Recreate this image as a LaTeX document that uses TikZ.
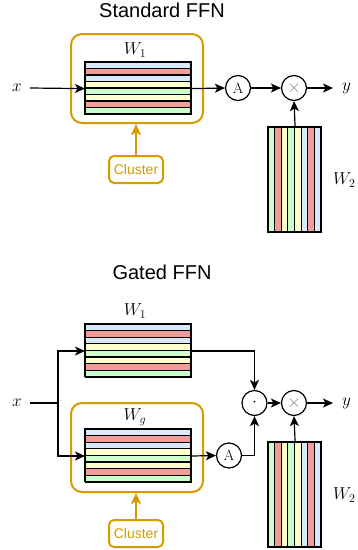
\documentclass[tikz,border=0pt]{standalone}
\usepackage{fontspec}
\newfontfamily\sansf{Liberation Sans}
\usetikzlibrary{arrows.meta}
\definecolor{cb}{HTML}{DAE8FC}
\definecolor{cr}{HTML}{F19C99}
\definecolor{cy}{HTML}{FFFFCC}
\definecolor{cg}{HTML}{CCFFCC}
\definecolor{orng}{HTML}{D79B00}
\tikzset{
  arr/.style={-{Stealth[length=10pt,width=9pt,inset=2.5pt]}, line width=1.2pt},
  oarr/.style={-{Stealth[length=11pt,width=10pt,inset=2.5pt]}, line width=2pt, draw=orng},
  obox/.style={draw=orng, line width=2pt, rounded corners=11pt, inner sep=0pt},
  cbox/.style={draw=orng, line width=2pt, rounded corners=5pt, fill=white, text=orng,
    font=\sansf\fontsize{14}{16}\selectfont, minimum width=54pt, minimum height=27pt, inner sep=0pt},
  circ/.style={circle, draw, line width=1.2pt, minimum size=25pt, inner sep=0pt},
  ttl/.style={font=\sansf\fontsize{20}{24}\selectfont},
  lbl/.style={font=\fontsize{18}{21}\selectfont, inner sep=1pt},
  mat/.style={draw, line width=1.2pt, inner sep=0pt},
}
\begin{document}
\begin{tikzpicture}[x=1pt,y=-1pt]
\useasboundingbox (0,0) rectangle (358,550);
% ---------------- Standard FFN ----------------
\node[ttl] (t1) at (162,10) {Standard FFN};
\node[obox, minimum width=132pt, minimum height=89pt, anchor=north west] (b1) at (70,33) {};
\node[lbl] (w1a) at (135,50) {$W_1$};
\foreach \c [count=\i from 0] in {cb,cr,cb,cy,cg,cy,cr,cg}
  \filldraw[fill=\c, line width=1.2pt] (85,62+\i*6.5) rectangle (191,62+\i*6.5+6.5);
\node[mat, minimum width=106pt, minimum height=52pt, anchor=north west] (m1) at (85,62) {};
\node[lbl, outer sep=7pt] (x1) at (17,88) {$x$};
\draw[arr] (x1.east) -- (m1.west);
\node[circ, font=\fontsize{15}{18}\selectfont] (a1) at (238,88) {$\mathrm{A}$};
\draw[arr] (m1.east) -- (a1.west);
\node[circ, font=\fontsize{17}{20}\selectfont] (p1) at (294,88) {\textcolor{gray}{$\times$}};
\draw[arr] (a1.east) -- (p1.west);
\node[lbl, anchor=west] (y1) at (341,88) {$y$};
\draw[arr, shorten >=8pt] (p1.east) -- (y1.west);
\foreach \c [count=\i from 0] in {cg,cr,cy,cg,cy,cb,cr,cb}
  \filldraw[fill=\c, line width=1.2pt] (268+\i*6.625,127) rectangle (268+\i*6.625+6.625,232);
\node[mat, minimum width=53pt, minimum height=105pt, anchor=north west] (v1) at (268,127) {};
\draw[arr] (v1.north) -- (p1.south);
\node[lbl, anchor=west] (w2a) at (332,180) {$W_2$};
\node[cbox] (c1) at (136,169.5) {Cluster};
\draw[oarr] (c1.north) -- (b1.south -| c1.north);
% ---------------- Gated FFN ----------------
\node[ttl] (t2) at (162,272) {Gated FFN};
\node[lbl] (w1b) at (135,311) {$W_1$};
\foreach \c [count=\i from 0] in {cb,cr,cb,cy,cg,cy,cr,cg}
  \filldraw[fill=\c, line width=1.2pt] (85,324+\i*6.6) rectangle (191,324+\i*6.6+6.6);
\node[mat, minimum width=106pt, minimum height=52.8pt, anchor=north west] (m2) at (85,324) {};
\node[obox, minimum width=132pt, minimum height=89pt, anchor=north west] (b2) at (70,402) {};
\node[lbl] (wg) at (135,417) {$W_g$};
\foreach \c [count=\i from 0] in {cb,cr,cb,cy,cg,cy,cr,cg}
  \filldraw[fill=\c, line width=1.2pt] (85,429+\i*6.6) rectangle (191,429+\i*6.6+6.6);
\node[mat, minimum width=106pt, minimum height=52.8pt, anchor=north west] (mg) at (85,429) {};
\node[lbl, outer sep=7pt] (x2) at (17,403) {$x$};
\coordinate (sp) at (58,403);
\draw[line width=1.2pt] (x2.east) -- (sp);
\draw[arr] (sp) |- (m2.west);
\draw[arr] (sp) |- (mg.west);
\node[circ, font=\fontsize{15}{18}\selectfont] (a2) at (229,455.5) {$\mathrm{A}$};
\draw[arr] (mg.east) -- (a2.west);
\node[circ, font=\fontsize{17}{20}\selectfont] (d2) at (254.5,403) {$\cdot$};
\draw[arr] (a2.east) -| (d2.south);
\draw[arr] (m2.east) -| (d2.north);
\node[circ, font=\fontsize{17}{20}\selectfont] (p2) at (294,403) {\textcolor{gray}{$\times$}};
\draw[arr] (d2.east) -- (p2.west);
\node[lbl, anchor=west] (y2) at (341,403) {$y$};
\draw[arr, shorten >=8pt] (p2.east) -- (y2.west);
\foreach \c [count=\i from 0] in {cg,cr,cy,cg,cy,cb,cr,cb}
  \filldraw[fill=\c, line width=1.2pt] (268+\i*6.625,442) rectangle (268+\i*6.625+6.625,547);
\node[mat, minimum width=53pt, minimum height=105pt, anchor=north west] (v2) at (268,442) {};
\draw[arr] (v2.north) -- (p2.south);
\node[lbl, anchor=west] (w2b) at (332,495) {$W_2$};
\node[cbox] (c2) at (136,533.5) {Cluster};
\draw[oarr] (c2.north) -- (b2.south -| c2.north);
\end{tikzpicture}
\end{document}
